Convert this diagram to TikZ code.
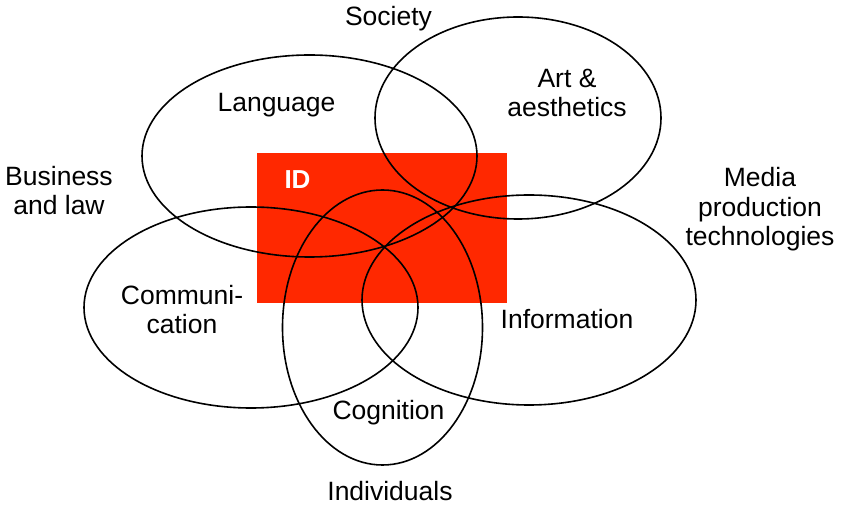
\documentclass[tikz,border=0pt]{standalone}
\usepackage{fontspec}
\setmainfont{Liberation Sans}
\definecolor{idred}{RGB}{255,40,0}
\tikzset{
  circle set/.style={draw=black, line width=1.6pt},
  lbl/.style={inner sep=0pt, font=\fontsize{26.5}{29.5}\selectfont, anchor=base},
  idlbl/.style={inner sep=0pt, font=\fontsize{26}{29}\selectfont\bfseries, text=white, anchor=base}
}
\begin{document}
\begin{tikzpicture}[x=1pt,y=-1pt]
\useasboundingbox (0,0) rectangle (844,510);
% red ID area
\fill[idred] (257,153) rectangle (507,303);
% domains
\draw[circle set] (309.5,156) ellipse [x radius=167.5, y radius=101];
\draw[circle set] (518,118) ellipse [x radius=143, y radius=101];
\draw[circle set] (251,307.5) ellipse [x radius=167, y radius=100.5];
\draw[circle set] (382.5,327.5) ellipse [x radius=100, y radius=137.5];
\draw[circle set] (529,300) ellipse [x radius=167, y radius=105];
% labels (multi-line nodes: base = last line baseline)
\node[idlbl] (id) at (297.5,189) {ID};
\node[lbl] (society) at (388.5,26) {Society};
\node[lbl] (language) at (276.5,112) {Language};
\node[lbl, align=center] (art) at (567,117) {Art \&\\aesthetics};
\node[lbl, align=center] (business) at (59,215) {Business\\and law};
\node[lbl, align=center] (media) at (760,246) {Media\\production\\technologies};
\node[lbl, align=center] (comm) at (182,334) {Communi-\\cation};
\node[lbl] (info) at (567,329) {Information};
\node[lbl] (cog) at (388.5,420) {Cognition};
\node[lbl] (indiv) at (390,501) {Individuals};
\end{tikzpicture}
\end{document}
